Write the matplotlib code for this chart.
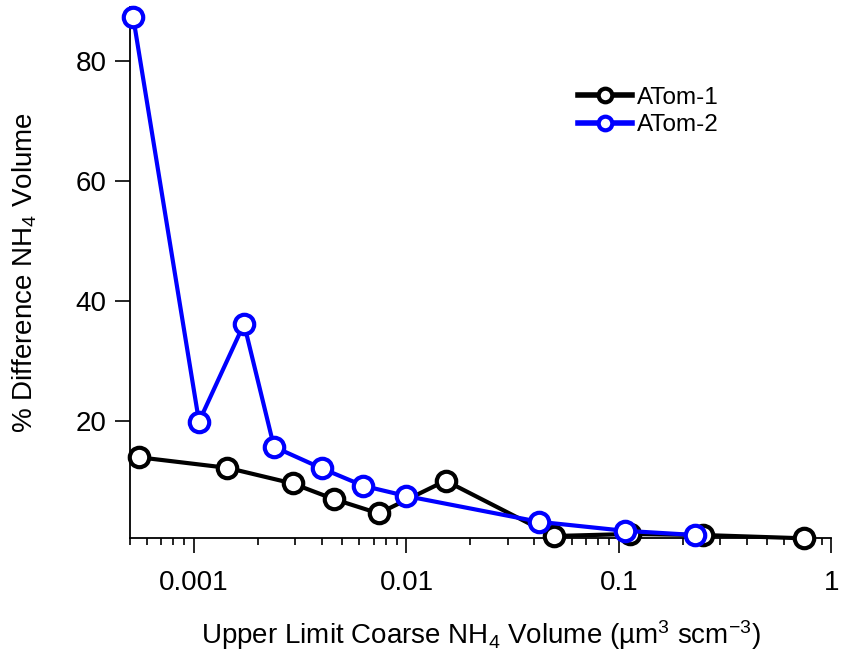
import numpy as np
import matplotlib
matplotlib.use("Agg")
import matplotlib.pyplot as plt
from matplotlib.ticker import LogLocator, FixedLocator, NullFormatter, FuncFormatter

plt.rcParams['font.family'] = ['Liberation Sans', 'DejaVu Sans']
plt.rcParams['mathtext.fontset'] = 'custom'
plt.rcParams['mathtext.rm'] = 'Liberation Sans'
plt.rcParams['mathtext.it'] = 'Liberation Sans:italic'

# ATom-1
x1 = [0.000554, 0.001436, 0.00291, 0.00454, 0.0074, 0.01528, 0.0493, 0.1127, 0.248, 0.74]
y1 = [13.95, 12.2, 9.6, 7.0, 4.6, 10.05, 0.83, 1.17, 1.0, 0.45]

# ATom-2
x2 = [0.000517, 0.001056, 0.00172, 0.00238, 0.0040, 0.00627, 0.00997, 0.0421, 0.1067, 0.228]
y2 = [87.4, 19.9, 36.2, 15.7, 12.1, 9.2, 7.5, 3.2, 1.7, 1.0]

tick_labels = {0.001: '0.001', 0.01: '0.01', 0.1: '0.1', 1.0: '1'}

fig = plt.figure(figsize=(8.41, 6.57), dpi=100)
ax = fig.add_axes([0.1546, 0.1811, 0.834, 0.808])

ax.plot(x1, y1, color='black', lw=3, marker='o', ms=14, mfc='white', mec='black',
        mew=3, label='ATom-1', clip_on=False, zorder=3)
ax.plot(x2, y2, color='#0000ff', lw=3, marker='o', ms=14, mfc='white', mec='#0000ff',
        mew=3, label='ATom-2', clip_on=False, zorder=4)

ax.set_xscale('log')
ax.set_xlim(0.0005, 1.0)
ax.set_ylim(0.5, 89)

ax.spines['top'].set_visible(False)
ax.spines['right'].set_visible(False)
for s in ['left', 'bottom']:
    ax.spines[s].set_linewidth(1.3)

ax.yaxis.set_major_locator(FixedLocator([20, 40, 60, 80]))
ax.xaxis.set_major_locator(FixedLocator(list(tick_labels.keys())))
ax.xaxis.set_major_formatter(FuncFormatter(lambda v, p: tick_labels.get(round(v, 6), '')))
ax.xaxis.set_minor_locator(LogLocator(base=10, subs=np.arange(2, 10)))
ax.xaxis.set_minor_formatter(NullFormatter())

ax.tick_params(axis='both', which='major', direction='out', length=11, width=1.2,
               labelsize=20)
ax.tick_params(axis='x', which='major', pad=12)
ax.tick_params(axis='y', which='major', pad=6)
ax.tick_params(axis='x', which='minor', direction='out', length=5, width=1.2)

ax.set_xlabel('Upper Limit Coarse NH$_4$ Volume (µm$^3$ scm$^{-3}$)', fontsize=20, labelpad=16)
ax.set_ylabel('% Difference NH$_4$ Volume', fontsize=20, labelpad=26)

leg = ax.legend(loc='upper left', bbox_to_anchor=(0.639, 0.85), frameon=False, fontsize=17.5,
                handlelength=2.2, handletextpad=0.2, labelspacing=0.22, borderpad=0,
                borderaxespad=0, markerscale=0.7)
for line in leg.get_lines():
    line.set_linewidth(4)

fig.savefig('out.png', dpi=100)
